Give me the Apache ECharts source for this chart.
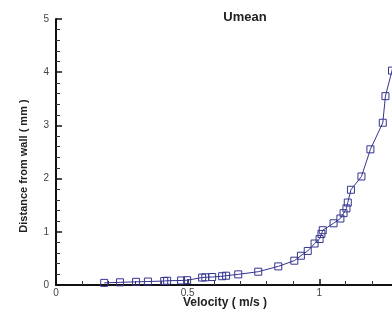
<!DOCTYPE html>
<html>
<head>
<meta charset="utf-8">
<script src="https://cdn.jsdelivr.net/npm/echarts@6/dist/echarts.min.js"></script>
<style>
  html, body { margin: 0; padding: 0; background: #fff; overflow: hidden; }
  #chart { width: 451px; height: 323px; }
</style>
</head>
<body>
<div id="chart"></div>
<script>
// Mean velocity profile near the wall
const velocity = [0.183, 0.243, 0.304, 0.349, 0.411, 0.422, 0.475, 0.498, 0.555, 0.567,
                  0.593, 0.631, 0.646, 0.692, 0.768, 0.844, 0.905, 0.930, 0.956, 0.982,
                  1.001, 1.008, 1.013, 1.054, 1.080, 1.092, 1.103, 1.108, 1.120, 1.160,
                  1.194, 1.241, 1.251, 1.276, 1.300];
const distance = [0.04, 0.05, 0.06, 0.065, 0.075, 0.08, 0.085, 0.09, 0.14, 0.145,
                  0.15, 0.165, 0.175, 0.20, 0.25, 0.35, 0.457, 0.55, 0.64, 0.78,
                  0.865, 0.96, 1.03, 1.16, 1.25, 1.35, 1.44, 1.55, 1.79, 2.04,
                  2.55, 3.05, 3.55, 4.03, 4.50];
const xTicks = [0, 0.5, 1, 1.5];
const yTicks = [0, 1, 2, 3, 4, 5];

const font = "'Liberation Sans', Arial, Helvetica, sans-serif";
const lineColor = '#34348f';

const chart = echarts.init(document.getElementById('chart'), null, { renderer: 'canvas' });

const axisCommon = {
  axisLine: { show: true, onZero: false, lineStyle: { color: '#111', width: 2 } },
  axisTick: { show: true, inside: true, length: 6, lineStyle: { color: '#111', width: 1.5 } },
  minorTick: { show: true, splitNumber: 5, length: 4, lineStyle: { color: '#333', width: 1 } },
  splitLine: { show: false },
  axisLabel: { color: '#444', fontSize: 10, fontFamily: font }
};

chart.setOption({
  animation: false,
  backgroundColor: '#fff',
  title: {
    text: 'Umean',
    left: 240, top: 6,
    textAlign: 'center',
    textStyle: { fontSize: 13, fontWeight: 'bold', color: '#222', fontFamily: font }
  },
  grid: { left: 56, top: 19, bottom: 38, right: 0, containLabel: false, outerBoundsMode: 'none' },
  xAxis: Object.assign({}, axisCommon, {
    type: 'value',
    min: xTicks[0], max: xTicks[xTicks.length - 1], interval: 0.5,
    axisLabel: Object.assign({}, axisCommon.axisLabel, {
      margin: 3,
      formatter: v => String(v)
    })
  }),
  yAxis: Object.assign({}, axisCommon, {
    type: 'value',
    min: yTicks[0], max: yTicks[yTicks.length - 1], interval: 1,
    axisLabel: Object.assign({}, axisCommon.axisLabel, { margin: 7 })
  }),
  graphic: [
    {
      type: 'text', left: 183, top: 297,
      style: { text: 'Velocity ( m/s )', font: "bold 12px " + font, fill: '#222' }
    },
    {
      type: 'text', x: 24, y: 166, rotation: Math.PI / 2,
      style: {
        text: 'Distance from wall ( mm )', font: "bold 11px " + font, fill: '#222',
        align: 'center', verticalAlign: 'middle'
      }
    }
  ],
  series: [{
    type: 'line',
    data: velocity.map((v, i) => [v, distance[i]]),
    symbol: 'rect',
    symbolSize: 7,
    showAllSymbol: true,
    lineStyle: { color: lineColor, width: 1 },
    itemStyle: { color: 'rgba(255,255,255,0)', borderColor: lineColor, borderWidth: 1 }
  }]
});
</script>
</body>
</html>
